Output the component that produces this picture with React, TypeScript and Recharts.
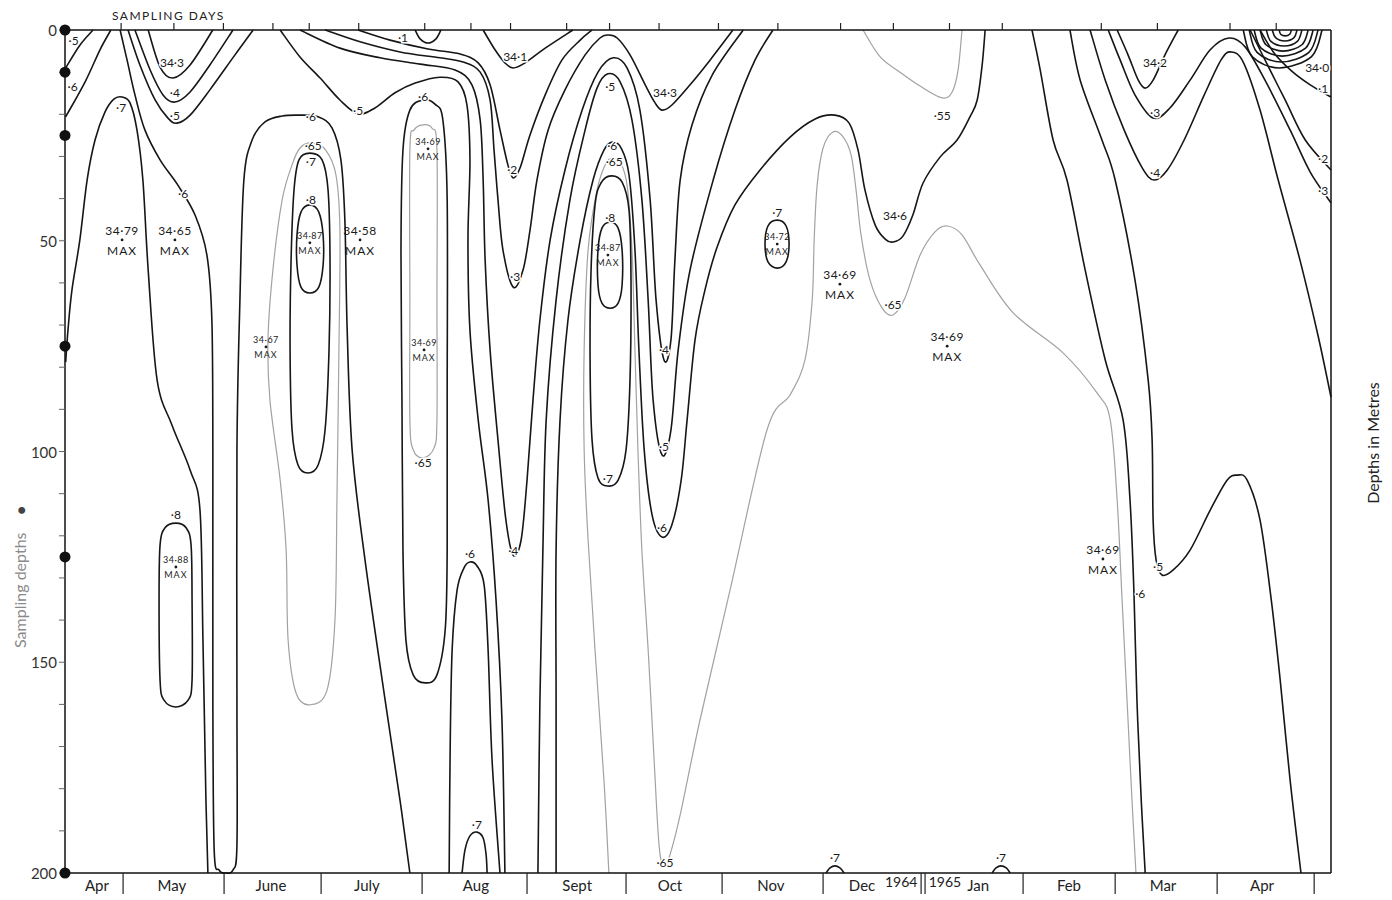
import { ComposedChart, Line, Scatter, XAxis, YAxis } from "recharts";

type Pt = [number, number];

const FONT = "Lato, 'Open Sans', 'DejaVu Sans', sans-serif";

// x = days from the start of the section (mid April 1964), y = depth in metres
const samplingDays = [17, 33, 48, 63, 74, 89, 109, 123, 135, 152, 165, 180, 198, 216, 235, 251, 268, 284, 314, 331, 353, 367];
const monthBounds = [17.6, 48.2, 77.6, 108.2, 140, 170, 199.1, 229.7, 259.4, 260.6, 290.3, 318.2, 349.1, 378.5];
const monthNames = ["Apr", "May", "June", "July", "Aug", "Sept", "Oct", "Nov", "Dec", "Jan", "Feb", "Mar", "Apr"];
const monthMids = [9.7, 32.4, 62.4, 91.5, 124.5, 155.2, 183.3, 213.9, 241.5, 276.7, 304.2, 332.7, 362.7];
const yearLabels = ["1964", "1965"];
const yearPos = [258.3, 261.7];
const depthTicks = [0, 10, 20, 30, 40, 50, 60, 70, 80, 90, 100, 110, 120, 130, 140, 150, 160, 170, 180, 190, 200];
const samplingDepths = [0, 10, 25, 75, 125, 200];

// ---- isohalines ----
const apr5: Pt[] = [[8.5, 0], [4.5, 3.6], [0.2, 9]];
const apr6: Pt[] = [[13.9, 0], [10.6, 4.7], [6.1, 12.3], [0.2, 20.6]];
const apr7: Pt[] = [[0.2, 78.8], [0.9, 71.2], [2.1, 61.7], [4.5, 49.8], [6.7, 35.6], [9.1, 26.1], [12.1, 19.5], [14.8, 16.4], [17.3, 15.9], [19.7, 17.3], [21.8, 23.7], [23.6, 35.6], [25.2, 56.9], [27.9, 83], [32.4, 93.7], [37.9, 104.4], [40.9, 113.9], [41.8, 144.7], [42.7, 182.7], [43.3, 200]];
const may343: Pt[] = [[25.2, 0], [28.8, 8.8], [32.7, 11.4], [37.9, 8.3], [44.8, 0]];
const may4: Pt[] = [[21.2, 0], [25.8, 9.5], [29.7, 15.4], [33.3, 17.1], [37.9, 14.7], [43.9, 8.3], [50.9, 0]];
const may5: Pt[] = [[19.1, 0], [22.7, 8.3], [27.3, 16.6], [31.2, 20.9], [33.9, 22.1], [37.9, 20.2], [43.9, 14.2], [51.5, 5.9], [57, 0]];
const chain6: Pt[] = [[16.7, 0], [18.8, 7.1], [21.2, 15.4], [24.2, 23.7], [28.8, 30.8], [34.2, 36.8], [39.4, 43.9], [43, 53.4], [44.5, 68.8], [44.8, 99.6], [44.8, 159], [45.2, 194.5], [46.7, 199.3], [48.8, 200], [50.9, 199.3], [52.1, 193.4], [52.1, 159], [52.1, 99.6], [53, 64.1], [54.2, 35.6], [56.7, 26.1], [60.6, 21.8], [65.8, 20.4], [71.2, 20.2], [76.7, 20.6], [80.9, 23.2], [83.6, 30.8], [84.8, 45.1], [85.5, 71.2], [87, 99.6], [90.9, 125.7], [97, 159], [101.5, 182.7], [104.5, 200]];
const may8: Pt[] = [[33.6, 117], [36.7, 118.1], [38.2, 122.2], [38.5, 135.2], [38.5, 154.2], [37.3, 159], [33.6, 160.6], [30, 159], [28.8, 154.2], [28.5, 135.2], [28.8, 122.2], [30.3, 118.1], [33.6, 117]];
const june65: Pt[] = [[74.8, 26.8], [79, 28.5], [82.1, 34.4], [83.3, 47.5], [83, 75.9], [82.4, 111.5], [81.8, 140], [79.4, 156.6], [74.2, 160.1], [70, 157.3], [67.6, 144.7], [67, 123.4], [65.2, 106.8], [62.1, 87.8], [61.5, 73.5], [63, 56.9], [65.8, 40.3], [68.8, 32], [71.2, 28], [74.8, 26.8]];
const june7: Pt[] = [[74.2, 29.2], [77.9, 30.8], [79.7, 37.9], [80.3, 54.6], [80, 75.9], [78.8, 94.9], [76.7, 103.2], [73.6, 105.1], [70.6, 103.2], [68.8, 94.9], [68.2, 75.9], [68.5, 54.6], [69.4, 37.9], [70.9, 30.8], [74.2, 29.2]];
const june8: Pt[] = [[74.2, 41.5], [76.9, 43.2], [78.2, 48.6], [78.2, 55.8], [76.9, 61], [74.2, 62.4], [71.5, 61], [70.3, 55.8], [70.3, 48.6], [71.5, 43.2], [74.2, 41.5]];
const fan5: Pt[] = [[65.2, 0], [71.2, 6.4], [77.3, 11.4], [83.3, 16.6], [88.8, 19.9], [93.9, 18.5], [100, 14.9], [106.1, 12.6], [113.6, 11.2], [119.1, 12.3], [121.8, 17.8], [122.7, 30.8], [122.1, 49.8], [122.7, 71.2], [125.2, 92.5], [128.2, 111.5], [130.6, 135.2], [132.4, 163.7], [133.3, 200]];
const fan4: Pt[] = [[71.2, 0], [83.3, 4.3], [95.5, 6.6], [107.6, 8.1], [118.2, 9.5], [123.3, 13], [125.8, 21.4], [126.7, 35.6], [127.3, 54.6], [128.8, 75.9], [131.2, 97.3], [133.6, 116.3], [135.8, 124.6], [138.2, 121], [140, 106.8], [141.8, 87.8], [143.9, 68.8], [147, 49.8], [151.5, 33.2], [156.7, 19], [161.5, 10], [166.1, 6.6], [170.3, 9], [174.2, 19], [177.3, 40.3], [179.1, 64.1], [181.5, 78.3], [183.6, 73.5], [184.8, 54.6], [186.4, 35.6], [190, 22.5], [196.1, 10.7], [205.5, 0]];
const fan3: Pt[] = [[78.8, 0], [89.4, 2.8], [101.5, 5.2], [113.6, 6.6], [120.6, 7.6], [125.8, 10], [128.8, 16.6], [130, 28.5], [131.2, 40.3], [132.7, 52.2], [135.8, 61], [138.8, 56.9], [140.9, 47.5], [143, 35.6], [146.4, 23.7], [151.5, 14.2], [157.6, 5.9], [162.1, 1.9], [164.5, 1.2], [167.3, 1.9], [171.2, 5.9], [175.8, 13], [178.8, 17.3], [180.9, 19], [183.9, 17.8], [189.4, 13], [195.5, 7.1], [202.4, 0]];
const fan2: Pt[] = [[88.8, 0], [98.5, 2.4], [110, 4.5], [119.7, 5.7], [125.2, 7.8], [128.8, 13], [131.8, 23.7], [134.2, 32], [135.8, 35.1], [137.9, 32.7], [140.9, 24.9], [145.5, 15.4], [150.6, 7.1], [156.1, 2.4], [159.7, 0]];
const surf341: Pt[] = [[126.7, 0], [130.3, 4.7], [133.3, 7.8], [135.8, 9], [139.4, 7.8], [145.5, 4.3], [153.9, 0]];
const surf1: Pt[] = [[106.1, 0], [107.6, 2.1], [110, 3.1], [112.4, 2.1], [113.9, 0]];
const aug6: Pt[] = [[108.5, 16.6], [112.1, 17.6], [114.5, 21.4], [115.8, 40.3], [115.8, 87.8], [115.8, 123.4], [115.2, 142.3], [112.7, 153], [109.1, 154.9], [105.5, 153], [103.3, 144.7], [102.4, 123.4], [102.1, 87.8], [101.8, 52.2], [102.4, 28.5], [104.5, 19], [108.5, 16.6]];
const aug65: Pt[] = [[108.5, 22.5], [111.2, 23.3], [112.7, 28.5], [112.7, 64.1], [112.7, 92.5], [111.8, 99.2], [108.5, 101.5], [105.5, 99.6], [104.5, 92.5], [104.5, 64.1], [104.5, 28.5], [105.8, 23.7], [108.5, 22.5]];
const aug6Arch: Pt[] = [[116.4, 200], [116.7, 170.8], [117.3, 147.1], [118.8, 132.9], [120.9, 127.6], [122.7, 126.2], [124.8, 127.1], [127, 131.7], [128.2, 147.1], [129.4, 173.2], [131.8, 200]];
const aug7Arch: Pt[] = [[120.3, 200], [121.2, 194.5], [122.7, 191.2], [124.8, 190.3], [126.7, 191.7], [127.6, 195.7], [127.9, 200]];
const sept5: Pt[] = [[143.3, 200], [143.9, 159], [144.8, 123.4], [145.8, 92.5], [148.8, 64.1], [153, 40.3], [157.6, 23.7], [161.2, 13.8], [164.5, 10.4], [168.2, 12.3], [171.8, 21.4], [174.8, 40.3], [176.7, 64.1], [178.2, 87.8], [180.9, 100.8], [183.6, 94.9], [185.8, 75.9], [189.4, 56.9], [196.4, 35.6], [203, 19], [209.1, 7.1], [214.5, 0]];
const sept6: Pt[] = [[148.8, 200], [148.8, 159], [148.8, 123.4], [150, 92.5], [152.4, 68.8], [156.1, 49.8], [160, 35.6], [163.3, 28.5], [165.8, 26.6], [168.5, 28], [170.9, 34.4], [172.7, 52.2], [173.9, 75.9], [175.5, 99.6], [177.9, 115.1], [180.9, 120.3], [183.9, 117.4], [186.7, 106.8], [188.5, 92.5], [190.9, 73.5], [193.9, 61.7], [197.6, 51.5], [203, 41.5], [210.6, 33.2], [219.7, 25.4], [227.3, 21.1], [233.3, 20.2], [237.6, 22.1], [240.3, 28.5], [242.4, 38], [245.5, 46.3], [248.5, 49.6], [250.9, 50.3], [253.9, 48.9], [256.9, 43.9], [260, 36.3], [265.2, 30.1], [270.3, 26.1], [274.2, 20.6], [276.4, 16.6], [277.9, 8.3], [278.8, 0]];
const sept65: Pt[] = [[164.8, 200], [163.3, 177.9], [160.6, 147.1], [158.5, 121], [157.3, 99.6], [157.3, 75.9], [158.5, 52.2], [161.2, 38], [163.9, 31.6], [166.1, 30.4], [168.2, 31.3], [170.3, 36.8], [171.8, 52.2], [172.7, 75.9], [173.6, 99.6], [174.8, 123.4], [176.7, 147.1], [178.5, 173.2], [180, 193.4], [181.5, 198.6], [183.3, 195.7], [186.4, 186.2], [192.4, 163.7], [201.5, 132.9], [212.7, 94.9], [219.7, 86.6], [224.2, 78.3], [226.4, 64.1], [227, 49.8], [227.9, 36.8], [229.7, 28], [232.7, 24.2], [235.8, 25.4], [238.2, 29.7], [239.7, 38], [241.2, 48.6], [243.9, 59.3], [247.6, 66], [250.9, 67.6], [254.5, 63.6], [259.1, 53.4], [263.6, 47.9], [267.3, 46.5], [271.8, 48.6], [277.3, 55.8], [287.3, 67.1], [302.4, 76.6], [312.7, 86.1], [316.7, 92.5], [318.8, 111.5], [320.3, 135.2], [321.8, 159], [323.3, 182.7], [324.5, 200]];
const sept7: Pt[] = [[165.5, 34.6], [168.8, 36.1], [170.9, 42.7], [171.5, 59.3], [171.2, 83], [170, 99.6], [167.6, 106.8], [164.5, 108.2], [161.5, 106.3], [159.7, 97.3], [159.1, 78.3], [159.4, 56.9], [160.6, 41.5], [162.4, 36.3], [165.5, 34.6]];
const sept8: Pt[] = [[165.2, 45.6], [167.6, 47], [168.8, 52.2], [168.8, 60.5], [167.6, 64.8], [165.2, 66], [162.7, 64.8], [161.5, 60.5], [161.5, 52.2], [162.7, 47], [165.2, 45.6]];
const nov7: Pt[] = [[215.8, 45.1], [218.5, 46.5], [219.4, 50.8], [218.5, 55], [215.8, 56.5], [213, 55], [212.1, 50.8], [213, 46.5], [215.8, 45.1]];
const nov55: Pt[] = [[241.8, 0], [247, 6.4], [253, 10], [259.1, 13.3], [265.8, 16.1], [268.8, 14.7], [270.6, 9.5], [271.8, 0]];
const dec7: Pt[] = [[230.6, 200], [231.8, 198.8], [233.3, 198.3], [234.8, 198.8], [236.1, 200]];
const jan7: Pt[] = [[280.9, 200], [282.1, 198.8], [283.6, 198.3], [285.2, 198.8], [286.4, 200]];
const late6: Pt[] = [[293, 0], [295.5, 9.5], [299.4, 26.1], [303.6, 35.6], [309.1, 56.9], [315.2, 78.3], [320.6, 92.5], [322.7, 111.5], [323.9, 133.6], [324.8, 159], [326.1, 182.7], [327.3, 200]];
const late5: Pt[] = [[304.5, 0], [307.6, 11.9], [314.2, 26.1], [318.2, 35.6], [324.2, 59.3], [328.2, 83], [329.4, 97.3], [329.7, 116.3], [330.6, 125.7], [332.4, 129.3], [335.8, 128.1], [340.9, 123.4], [347, 113.9], [352.1, 106.8], [355.2, 105.6], [358.2, 106.8], [362.1, 116.3], [365.5, 135.2], [368.2, 154.2], [371.2, 177.9], [374.5, 200]];
const late4: Pt[] = [[310.6, 0], [315.2, 11.9], [320.9, 23.7], [326.4, 32.7], [330, 35.6], [334, 33.2], [339.1, 26.1], [345.2, 15.4], [350.3, 7.1], [353.3, 5.2], [357, 7.6], [362.1, 19], [367.6, 35.6], [374.2, 54.6], [379.7, 72.6], [383.6, 87.1]];
const late3: Pt[] = [[316.1, 0], [319.7, 7.1], [324.2, 15.4], [329.7, 20.9], [334.8, 18.5], [340.9, 11.9], [347, 4.7], [352.7, 1.9], [357.6, 4], [363.6, 11.9], [371.2, 23.7], [377.3, 33.7], [383.6, 41]];
const late342: Pt[] = [[318.8, 0], [322.1, 5.9], [325.2, 11.9], [327.3, 13.8], [329.7, 11.9], [333.3, 5.9], [337.3, 0]];
const late2: Pt[] = [[359.1, 0], [363.6, 7.1], [369.7, 16.6], [375.8, 26.1], [383.6, 33.2]];
const late1: Pt[] = [[362.1, 0], [366.4, 5.5], [371.8, 9.8], [377.3, 13], [383.6, 15.9]];
const arc1: Pt[] = [[367.9, 0], [368.35, 1], [369.7, 1.4], [371.1, 1], [371.6, 0]];
const arc2: Pt[] = [[365.8, 0], [366.8, 1.8], [369.7, 2.6], [372.4, 1.8], [373.3, 0]];
const arc3: Pt[] = [[364, 0], [365.4, 2.7], [369.4, 3.8], [373.4, 2.7], [374.8, 0]];
const arc4: Pt[] = [[362.1, 0], [363.9, 3.5], [369.1, 5], [374.8, 3.5], [376.7, 0]];
const arc5: Pt[] = [[360.3, 0], [362.4, 4.3], [368.8, 6.2], [375.9, 4.3], [378.2, 0]];
const arc6: Pt[] = [[358.8, 0], [361.2, 5.3], [368.5, 7.6], [376.9, 5.3], [379.7, 0]];
const arc7: Pt[] = [[357, 0], [359.7, 6.3], [367.9, 9], [377.7, 6.3], [380.9, 0]];

const darkContours: Pt[][] = [apr5, apr6, apr7, may343, may4, may5, chain6, may8, june7, june8, fan5, fan4, fan3, fan2, surf341, surf1, aug6, aug6Arch, aug7Arch, sept5, sept6, sept7, sept8, nov7, dec7, jan7, late6, late5, late4, late3, late342, late2, late1, arc1, arc2, arc3, arc4, arc5, arc6, arc7];
const lightContours: Pt[][] = [june65, aug65, sept65, nov55];

// [text, day, depth]
const contourLabels: [string, number, number][] = [
  ["·5", 2.6, 2.6], ["·6", 2.3, 13.3], ["·7", 17, 18.3], ["34·3", 32.4, 7.6], ["·4", 33.3, 14.9], ["·5", 33.3, 20.4],
  ["·6", 35.8, 38.7], ["·8", 33.6, 115], ["·6", 74.5, 20.6], ["·65", 75.2, 27.5], ["·7", 74.5, 31.1], ["·8", 74.5, 40.1],
  ["·5", 88.8, 19.2], ["·1", 102.4, 1.7], ["·6", 108.5, 15.7], ["·65", 108.5, 102.5], ["34·1", 136.4, 6.4], ["·2", 135.5, 33.2],
  ["·3", 136.4, 58.6], ["·4", 135.8, 123.4], ["·6", 122.7, 124.1], ["·7", 124.8, 188.6], ["·5", 165.2, 13.5], ["·6", 165.8, 27.3],
  ["·65", 166.4, 31.1], ["·8", 165.2, 44.4], ["·7", 164.5, 106.3], ["34·3", 181.8, 14.9], ["·4", 181.5, 75.9], ["·5", 181.5, 98.7],
  ["·6", 180.9, 118.1], ["·65", 181.8, 197.4], ["·7", 215.8, 43.2], ["34·6", 251.5, 43.9], ["·65", 250.9, 65.2], ["·55", 265.8, 20.2],
  ["·7", 233.3, 196.4], ["·7", 283.6, 196.4], ["34·2", 330.3, 7.8], ["·3", 330.3, 19.5], ["·4", 330.3, 33.9], ["34·0", 379.4, 9],
  ["·1", 381.2, 13.8], ["·2", 381.2, 30.4], ["·3", 381.2, 38], ["·5", 331.2, 127.2], ["·6", 325.8, 133.6],
];
const maxLabels: [string, number, number][] = [
  ["34·79", 17.3, 49.8], ["34·65", 33.3, 49.8], ["34·58", 89.4, 49.8], ["34·69", 234.8, 60.3], ["34·69", 267.3, 75], ["34·69", 314.5, 125.5],
];
const smallMaxLabels: [string, number, number][] = [
  ["34·88", 33.6, 127.4], ["34·87", 74.2, 50.5], ["34·67", 60.9, 75.2], ["34·69", 110, 28.2], ["34·69", 108.8, 75.9], ["34·87", 164.5, 53.4], ["34·72", 215.8, 50.8],
];

// Catmull-Rom curve through the read points; closes itself when first == last
function catmull(context: any) {
  let pts: number[][] = [];
  return {
    areaStart() {},
    areaEnd() {},
    lineStart() {
      pts = [];
    },
    point(x: number, y: number) {
      pts.push([+x, +y]);
    },
    lineEnd() {
      const n = pts.length;
      if (!n) return;
      const f = pts[0];
      const l = pts[n - 1];
      const closed = n > 3 && Math.abs(f[0] - l[0]) < 0.5 && Math.abs(f[1] - l[1]) < 0.5;
      const p = closed ? pts.slice(0, n - 1) : pts;
      const m = p.length;
      const at = (i: number) => (closed ? p[((i % m) + m) % m] : p[Math.max(0, Math.min(m - 1, i))]);
      context.moveTo(p[0][0], p[0][1]);
      const segs = closed ? m : m - 1;
      for (let i = 0; i < segs; i++) {
        const a = at(i - 1), b = at(i), c = at(i + 1), d = at(i + 2);
        context.bezierCurveTo(
          b[0] + (c[0] - a[0]) / 6, b[1] + (c[1] - a[1]) / 6,
          c[0] - (d[0] - b[0]) / 6, c[1] - (d[1] - b[1]) / 6,
          c[0], c[1],
        );
      }
      if (closed) context.closePath();
    },
  };
}

const bottomTicks = [...monthBounds, ...monthMids, ...yearPos];

function BottomTick({ x, y, payload }: any) {
  const v = payload.value;
  const b = monthBounds.indexOf(v);
  if (b >= 0) return <line x1={x} x2={x} y1={y} y2={y + 21} stroke="#222" strokeWidth={1.2} />;
  const m = monthMids.indexOf(v);
  if (m >= 0)
    return (
      <text x={x} y={y + 18} textAnchor="middle" fontSize={15} fontFamily={FONT} fill="#222">
        {monthNames[m]}
      </text>
    );
  const yi = yearPos.indexOf(v);
  if (yi >= 0)
    return (
      <text x={x} y={y + 14} textAnchor={yi === 0 ? "end" : "start"} fontSize={14} fontFamily={FONT} fill="#222">
        {yearLabels[yi]}
      </text>
    );
  return <g />;
}

function LeftTick({ x, y, payload }: any) {
  if (payload.value % 50 !== 0) return <g />;
  return (
    <text x={x} y={y} textAnchor="end" dominantBaseline="central" fontSize={15} fontFamily={FONT} fill="#333">
      {payload.value}
    </text>
  );
}

function RightTick({ x, y, payload }: any) {
  if (payload.value % 50 !== 0) return <g />;
  return (
    <text x={x} y={y} textAnchor="start" dominantBaseline="central" fontSize={15} fontWeight={600} fontFamily={FONT} fill="#111">
      {payload.value}
    </text>
  );
}

function ContourLabel({ cx, cy, payload }: any) {
  return (
    <text x={cx} y={cy} textAnchor="middle" dominantBaseline="central" fontSize={12} fontFamily={FONT}
      fill="#1a1a1a" stroke="#fff" strokeWidth={3} paintOrder="stroke">
      {payload.t}
    </text>
  );
}

function MaxLabel({ cx, cy, payload }: any) {
  const s = payload.s;
  return (
    <g fontFamily={FONT} fill="#1a1a1a" textAnchor="middle">
      <text x={cx} y={cy - s * 0.8} dominantBaseline="central" fontSize={s} letterSpacing={0.5}>{payload.t}</text>
      <circle cx={cx} cy={cy} r={1.4} fill="#1a1a1a" />
      <text x={cx} y={cy + s * 0.85} dominantBaseline="central" fontSize={s} letterSpacing={1}>MAX</text>
    </g>
  );
}

function DepthDot({ cx, cy }: any) {
  return <circle cx={cx} cy={cy} r={5.5} fill="#111" />;
}

// sampling-day mark: short tick standing on the surface line
function DayMark({ cx, cy }: any) {
  return <line x1={cx} x2={cx} y1={cy} y2={cy - 7} stroke="#222" strokeWidth={1.2} />;
}

const toRows = (pts: Pt[]) => pts.map(([x, y]) => ({ x, y }));

export default function App() {
  const labelRows = contourLabels.map(([t, x, y]) => ({ x, y, t }));
  const maxRows = [
    ...maxLabels.map(([t, x, y]) => ({ x, y, t, s: 12 })),
    ...smallMaxLabels.map(([t, x, y]) => ({ x, y, t, s: 9 })),
  ];
  const dotRows = samplingDepths.map((d) => ({ x: 0, y: d }));
  const dayRows = samplingDays.map((d) => ({ x: d, y: 0 }));

  return (
    <div style={{ position: "relative", width: 1384, height: 892, fontFamily: FONT, background: "#fff" }}>
      <ComposedChart width={1384} height={892} margin={{ top: 0, right: 0, bottom: 0, left: 0 }}>
        <XAxis xAxisId="top" orientation="top" type="number" dataKey="x" domain={[0, 383.6]}
          tick={false} tickLine={false} height={22} axisLine={{ stroke: "#111", strokeWidth: 1.5 }} />
        <XAxis type="number" dataKey="x" domain={[0, 383.6]} ticks={bottomTicks} interval={0}
          tick={<BottomTick />} tickLine={false} tickSize={0} tickMargin={0} height={27}
          axisLine={{ stroke: "#111", strokeWidth: 1.5 }} />
        <YAxis type="number" domain={[0, 200]} reversed ticks={depthTicks} interval={0} width={57}
          tickSize={6} tickMargin={2} tick={<LeftTick />} axisLine={{ stroke: "#111", strokeWidth: 1.5 }}
          tickLine={{ stroke: "#666" }} />
        <YAxis yAxisId="right" orientation="right" type="number" domain={[0, 200]} reversed ticks={depthTicks}
          interval={0} width={61} tickSize={7} tickMargin={1} tick={<RightTick />}
          axisLine={{ stroke: "#111", strokeWidth: 1.5 }} tickLine={{ stroke: "#444" }} />

        {lightContours.map((c, i) => (
          <Line key={`l${i}`} data={toRows(c)} dataKey="y" type={catmull as any} stroke="#a2a2a2" strokeWidth={1.2}
            dot={false} activeDot={false} isAnimationActive={false} legendType="none" />
        ))}
        {darkContours.map((c, i) => (
          <Line key={`d${i}`} data={toRows(c)} dataKey="y" type={catmull as any} stroke="#161616" strokeWidth={1.6}
            dot={false} activeDot={false} isAnimationActive={false} legendType="none" />
        ))}

        <Scatter data={dayRows} dataKey="y" shape={<DayMark />} isAnimationActive={false} legendType="none" />
        <Scatter data={labelRows} dataKey="y" shape={<ContourLabel />} isAnimationActive={false} legendType="none" />
        <Scatter data={maxRows} dataKey="y" shape={<MaxLabel />} isAnimationActive={false} legendType="none" />
        <Scatter data={dotRows} dataKey="y" shape={<DepthDot />} isAnimationActive={false} legendType="none" />
      </ComposedChart>

      <div style={{ position: "absolute", left: 104, top: 0, fontSize: 12, letterSpacing: 1.5, color: "#222" }}>
        SAMPLING DAYS
      </div>
      <div style={{ position: "absolute", left: 1364, top: 435, transform: "translate(-50%, -50%) rotate(-90deg)",
        whiteSpace: "nowrap", fontSize: 16, color: "#222" }}>
        Depths in Metres
      </div>
      <div style={{ position: "absolute", left: 11, top: 569, transform: "translate(-50%, -50%) rotate(-90deg)",
        whiteSpace: "nowrap", fontSize: 16, color: "#8a8a8a" }}>
        Sampling depths<span style={{ color: "#444", fontSize: 14, marginLeft: 18 }}>●</span>
      </div>
    </div>
  );
}
